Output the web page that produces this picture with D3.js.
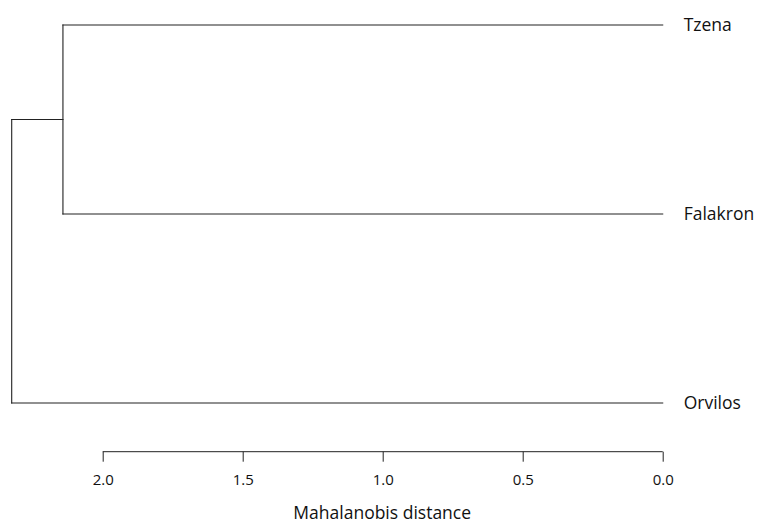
<!DOCTYPE html>
<html>
<head>
<meta charset="utf-8">
<script src="https://cdn.jsdelivr.net/npm/d3@7"></script>
<style>
  body { margin: 0; background: #fff; }
  text { font-family: "Open Sans", sans-serif; }
</style>
</head>
<body>
<script>
// leaves, top to bottom
var leaves = ['Tzena', 'Falakron', 'Orvilos'];
// merges: [child a, child b, height]
var mergeA = ['Tzena', 'Falakron'];
var mergeB = ['m1', 'Orvilos'];
var mergeHeights = [2.142, 2.325];
var tickValues = [2.0, 1.5, 1.0, 0.5, 0.0];
var axisTitle = 'Mahalanobis distance';

var width = 757, height = 524;

var svg = d3.select('body').append('svg')
  .attr('width', width)
  .attr('height', height);

// distance runs right-to-left
var x = d3.scaleLinear().domain([0, 2]).range([662.7, 102.7]);
var y = d3.scalePoint().domain(leaves).range([25, 403]);

var nodes = {};
leaves.forEach(function(l){ nodes[l] = {h: 0, y: y(l)}; });
nodes.m1 = {h: mergeHeights[0], y: (nodes[mergeA[0]].y + nodes[mergeA[1]].y) / 2};
nodes.m2 = {h: mergeHeights[1], y: (nodes[mergeB[0]].y + nodes[mergeB[1]].y) / 2};

var merges = [
  {id: 'm1', kids: mergeA},
  {id: 'm2', kids: mergeB}
];

var segs = [];
merges.forEach(function(m){
  var p = nodes[m.id];
  var a = nodes[m.kids[0]], b = nodes[m.kids[1]];
  segs.push([p.h, a.y, p.h, b.y]);
  segs.push([p.h, a.y, a.h, a.y]);
  segs.push([p.h, b.y, b.h, b.y]);
});

svg.selectAll('.seg').data(segs).enter().append('line')
  .attr('class', 'seg')
  .attr('x1', function(d){ return x(d[0]); })
  .attr('y1', function(d){ return d[1]; })
  .attr('x2', function(d){ return x(d[2]); })
  .attr('y2', function(d){ return d[3]; })
  .attr('stroke', '#222')
  .attr('stroke-width', 1.1)
  .attr('stroke-linecap', 'square');

// leaf labels
svg.selectAll('.leaf').data(leaves).enter().append('text')
  .attr('class', 'leaf')
  .attr('x', x(0) + 21)
  .attr('y', function(d){ return y(d); })
  .attr('dy', '0.35em')
  .attr('font-size', 17.5)
  .attr('fill', '#111')
  .text(function(d){ return d; });

// axis
var axisY = 451.7;
var g = svg.append('g')
  .attr('transform', 'translate(0,' + axisY + ')');

g.append('line')
  .attr('x1', x(2)).attr('x2', x(0))
  .attr('stroke', '#222');

var ax = d3.axisBottom(x)
  .tickValues(tickValues)
  .tickFormat(d3.format('.1f'))
  .tickSize(10)
  .tickPadding(13);

g.call(ax);
g.select('.domain').remove();
g.selectAll('.tick line').attr('stroke', '#222');
g.selectAll('.tick text')
  .attr('font-family', '"Open Sans", sans-serif')
  .attr('font-size', 15)
  .attr('fill', '#111');

svg.append('text')
  .attr('x', (x(2) + x(0)) / 2 - 0.5)
  .attr('y', 518.5)
  .attr('text-anchor', 'middle')
  .attr('font-size', 17.5)
  .attr('fill', '#111')
  .text(axisTitle);
</script>
</body>
</html>
